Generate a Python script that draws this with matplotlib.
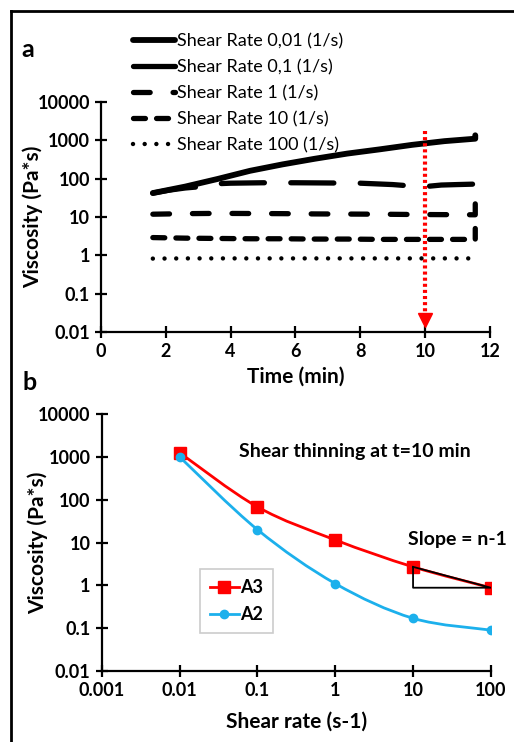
import matplotlib.pyplot as plt
import numpy as np
from matplotlib.lines import Line2D
from matplotlib.path import Path
from matplotlib.patches import PathPatch
from matplotlib.ticker import FixedLocator, FuncFormatter, NullLocator

plt.rcParams['font.family'] = ['Lato', 'DejaVu Sans']
plt.rcParams['lines.scale_dashes'] = False

# --- panel a: viscosity vs time at fixed shear rates ---
t_001 = [1.6, 2.6, 3.6, 4.6, 5.6, 6.6, 7.6, 8.6, 9.6, 10.6, 11.55, 11.55]
v_001 = [42, 62, 98, 160, 235, 330, 450, 580, 760, 950, 1100, 1350]

t_01 = [1.6, 2.1, 2.6, 3.1, 3.3, 4.0, 5.0, 6.0, 7.0, 8.0, 9.0, 9.6, 10.0, 10.5, 11.0, 11.55]
v_01 = [42, 50, 57, 62, 72, 76, 78, 78, 77, 76, 70, 64, 62, 68, 70, 72]

t_1 = [1.6, 2.6, 3.6, 4.6, 5.6, 6.6, 7.6, 8.6, 9.6, 10.6, 11.55, 11.55]
v_1 = [11.8, 12.2, 12.4, 12.3, 12.2, 12.0, 11.9, 11.8, 11.6, 11.5, 11.4, 30]

t_10 = [1.6, 2.6, 3.6, 4.6, 5.6, 6.6, 7.6, 8.6, 9.6, 10.6, 11.55, 11.55]
v_10 = [2.9, 2.8, 2.75, 2.7, 2.7, 2.65, 2.65, 2.6, 2.6, 2.6, 2.6, 5.0]

t_100 = [1.6, 2.6, 3.6, 4.6, 5.6, 6.6, 7.6, 8.6, 9.6, 10.6, 11.6]
v_100 = [0.82, 0.83, 0.83, 0.83, 0.83, 0.83, 0.83, 0.83, 0.83, 0.83, 0.83]

# --- panel b: viscosity vs shear rate at t = 10 min ---
shear = [0.01, 0.1, 1, 10, 100]
visc_a3 = [1250, 68, 11.5, 2.7, 0.88]
visc_a2 = [1000, 20, 1.1, 0.17, 0.09]

y_ticks = [0.01, 0.1, 1, 10, 100, 1000, 10000]
x_ticks_a = [0, 2, 4, 6, 8, 10, 12]
x_ticks_b = [0.001, 0.01, 0.1, 1, 10, 100]

label_font = {'fontsize': 15, 'fontweight': 'bold'}

fig = plt.figure(figsize=(5.14, 7.42), dpi=100)
ax1 = fig.add_axes([0.1965, 0.5526, 0.7565, 0.31])
ax2 = fig.add_axes([0.198, 0.0957, 0.757, 0.3463])


def style_axes(ax):
    for s in ['top', 'right']:
        ax.spines[s].set_visible(False)
    for s in ['left', 'bottom']:
        ax.spines[s].set_linewidth(1.6)
    ax.tick_params(which='major', direction='inout', length=8, width=1.6, pad=4)
    ax.tick_params(which='minor', length=0)
    for lab in ax.get_xticklabels() + ax.get_yticklabels():
        lab.set_fontsize(13)
        lab.set_fontweight('bold')


fmt = FuncFormatter(lambda v, p: '%g' % v)

# panel a curves
lw = 3.8
ax1.plot(t_001, v_001, color='black', lw=4.2, solid_capstyle='round',
         solid_joinstyle='round', label='Shear Rate 0,01 (1/s)')
ax1.plot(t_01, v_01, color='black', lw=lw, dashes=(31, 19),
         dash_capstyle='round', label='Shear Rate 0,1 (1/s)')
ax1.plot(t_1, v_1, color='black', lw=lw, dashes=(12, 16.5),
         dash_capstyle='round', label='Shear Rate 1 (1/s)')
ax1.plot(t_10, v_10, color='black', lw=lw, dashes=(8.6, 8),
         dash_capstyle='round', label='Shear Rate 10 (1/s)')
ax1.plot(t_100, v_100, color='black', lw=3.2, dashes=(0.01, 8.4),
         dash_capstyle='round', label='Shear Rate 100 (1/s)')

# red dotted marker at t = 10 min
ax1.plot([10, 10], [1800, 0.022], color='red', lw=3, dashes=(2.2, 2.2), clip_on=False)
ax1.plot([10], [0.02], marker='v', color='red', markersize=10, clip_on=False)

ax1.set_yscale('log')
ax1.set_xlim(0, 12)
ax1.set_ylim(0.01, 10000)
ax1.xaxis.set_major_locator(FixedLocator(x_ticks_a))
ax1.yaxis.set_major_locator(FixedLocator(y_ticks))
ax1.yaxis.set_minor_locator(NullLocator())
ax1.yaxis.set_major_formatter(fmt)
ax1.set_xlabel('Time (min)', **label_font, labelpad=5)
ax1.set_ylabel('Viscosity (Pa*s)', **label_font)
ax1.yaxis.set_label_coords(-0.15, 0.5)
style_axes(ax1)

fig.legend(*ax1.get_legend_handles_labels(), loc='upper left',
           bbox_to_anchor=(0.259, 0.955), frameon=False, fontsize=13,
           handlelength=2.3, handletextpad=0.12, labelspacing=0.55,
           borderpad=0, borderaxespad=0)


# panel b: smooth curves through the points (bezier in log-log space)
def smooth_path(xs, ys):
    lx, ly = np.log10(xs), np.log10(ys)
    pts = np.column_stack([lx, ly])
    n = len(pts)
    verts = [pts[0]]
    codes = [Path.MOVETO]
    for i in range(n - 1):
        p0 = pts[max(i - 1, 0)]
        p1 = pts[i]
        p2 = pts[i + 1]
        p3 = pts[min(i + 2, n - 1)]
        c1 = p1 + (p2 - p0) / 6
        c2 = p2 - (p3 - p1) / 6
        verts += [c1, c2, p2]
        codes += [Path.CURVE4] * 3
    return Path(10 ** np.array(verts), codes)


red = '#FF0000'
blue = '#1CB0EC'
ax2.add_patch(PathPatch(smooth_path(shear, visc_a3), fc='none', ec=red, lw=2))
ax2.add_patch(PathPatch(smooth_path(shear, visc_a2), fc='none', ec=blue, lw=2))
ax2.plot(shear, visc_a3, ls='none', marker='s', color=red, markersize=9)
ax2.plot(shear, visc_a2, ls='none', marker='o', color=blue, markersize=6)

# slope triangle between the last two A3 points
ax2.plot([shear[3], shear[3], shear[4], shear[3]],
         [visc_a3[3], visc_a3[4], visc_a3[4], visc_a3[3]],
         color='black', lw=1.3)

ax2.set_xscale('log')
ax2.set_yscale('log')
ax2.set_xlim(0.001, 100)
ax2.set_ylim(0.01, 10000)
ax2.xaxis.set_major_locator(FixedLocator(x_ticks_b))
ax2.yaxis.set_major_locator(FixedLocator(y_ticks))
ax2.xaxis.set_minor_locator(NullLocator())
ax2.yaxis.set_minor_locator(NullLocator())
ax2.xaxis.set_major_formatter(fmt)
ax2.yaxis.set_major_formatter(fmt)
ax2.set_xlabel('Shear rate (s-1)', **label_font, labelpad=9)
ax2.set_ylabel('Viscosity (Pa*s)', **label_font)
ax2.yaxis.set_label_coords(-0.137, 0.5)
style_axes(ax2)

ax2.text(0.65, 0.856, 'Shear thinning at t=10 min', transform=ax2.transAxes,
         ha='center', va='center', fontsize=14, fontweight='bold')
ax2.text(0.913, 0.51, 'Slope = n-1', transform=ax2.transAxes,
         ha='center', va='center', fontsize=14, fontweight='bold')

h_a3 = Line2D([], [], color=red, lw=2, marker='s', markersize=9)
h_a2 = Line2D([], [], color=blue, lw=2, marker='o', markersize=6)
leg = ax2.legend([h_a3, h_a2], ['A3', 'A2'], loc='upper left',
                 bbox_to_anchor=(0.252, 0.397), fancybox=False,
                 prop={'weight': 'bold', 'size': 13}, handlelength=1.6,
                 handletextpad=0.1, borderpad=0.55, labelspacing=0.55,
                 borderaxespad=0)
leg.get_frame().set_edgecolor('#BFBFBF')
leg.get_frame().set_linewidth(1.2)

# panel letters
fig.text(0.054, 0.933, 'a', fontsize=18, fontweight='bold', ha='center', va='center')
fig.text(0.058, 0.484, 'b', fontsize=18, fontweight='bold', ha='center', va='center')

# outer frame
fx, fy = 11 / 514, 1 - 11 / 742
fig.add_artist(Line2D([fx, fx], [0, fy], color='black', lw=2, transform=fig.transFigure))
fig.add_artist(Line2D([fx, 1], [fy, fy], color='black', lw=2, transform=fig.transFigure))

plt.savefig('out.png', dpi=100)
